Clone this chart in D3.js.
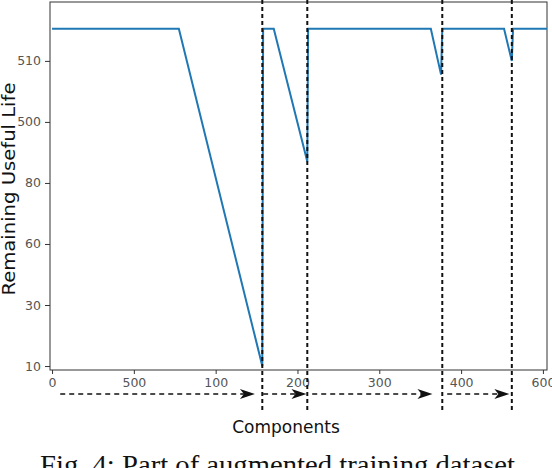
<!DOCTYPE html>
<html><head><meta charset="utf-8">
<script src="https://cdn.jsdelivr.net/npm/d3@7"></script>
<style>body{margin:0;background:#fff}svg{display:block}</style>
</head><body>
<svg id="c" width="552" height="468"></svg>
<script>
// Data
const xTicks = [0, 100, 200, 300, 400, 500, 600];
const xTickLabels = ["0", "500", "100", "200", "300", "400", "600"];
const yTicks = [0, 20, 40, 60, 80, 100];
const yTickLabels = ["10", "30", "60", "80", "500", "510"];
const rulX = [0, 155, 257, 258, 271, 312, 313, 463, 475.5, 477, 552.5, 562, 563.5, 605];
const rulY = [110.5, 110.5, 0, 110.5, 110.5, 67, 110.5, 110.5, 95.5, 110.5, 110.5, 100, 110.5, 110.5];
const boundaries = [257, 312, 477, 562];
const arrowStarts = [10, 258, 318, 483];
const arrowEnds = [248, 311, 465, 559];

const svg = d3.select("#c");
const m = {l: 50, r: 5, t: 2, b: 98};
const W = 552, H = 468;
const x = d3.scaleLinear().domain([-2.5, 605]).range([m.l, W - m.r]);
const y = d3.scaleLinear().domain([-1.3, 119.3]).range([H - m.b, m.t]);
const ink = "#333";

// axes
const xa = svg.append("g").attr("transform", `translate(0,${H - m.b})`)
  .call(d3.axisBottom(x).tickValues(xTicks).tickSize(4).tickPadding(4)
    .tickFormat((d, i) => xTickLabels[i]));
const ya = svg.append("g").attr("transform", `translate(${m.l},0)`)
  .call(d3.axisLeft(y).tickValues(yTicks).tickSize(5).tickPadding(4)
    .tickFormat((d, i) => yTickLabels[i]));
[xa, ya].forEach(g => {
  g.select(".domain").remove();
  g.selectAll(".tick line").attr("stroke", ink).attr("stroke-width", 1);
  g.selectAll(".tick text").attr("fill", "#555").style("font-family", "DejaVu Sans, sans-serif").style("font-size", "12.5px");
});

// frame
svg.append("rect").attr("x", m.l).attr("y", m.t)
  .attr("width", W - m.r - m.l).attr("height", H - m.b - m.t)
  .attr("fill", "none").attr("stroke", ink).attr("stroke-width", 1);

// line
const pts = rulX.map((d, i) => [d, rulY[i]]);
svg.append("path").datum(pts)
  .attr("d", d3.line().x(d => x(d[0])).y(d => y(d[1])))
  .attr("fill", "none").attr("stroke", "#1f77b4").attr("stroke-width", 2)
  .attr("stroke-linejoin", "miter");

// boundaries
svg.selectAll(".bd").data(boundaries).join("line")
  .attr("x1", d => x(d)).attr("x2", d => x(d))
  .attr("y1", 0).attr("y2", 413)
  .attr("stroke", "#111").attr("stroke-width", 2).attr("stroke-dasharray", "4,3");

// arrows
const ay = 394;
arrowStarts.forEach((s, i) => {
  const x0 = x(s), x1 = x(arrowEnds[i]);
  svg.append("line").attr("x1", x0).attr("x2", x1 - 10).attr("y1", ay).attr("y2", ay)
    .attr("stroke", "#111").attr("stroke-width", 1.5).attr("stroke-dasharray", "5,4");
  svg.append("path")
    .attr("d", `M${x1},${ay} L${x1 - 15},${ay - 5} L${x1 - 11},${ay} L${x1 - 15},${ay + 5} Z`)
    .attr("fill", "#111");
});

// labels
svg.append("text").attr("transform", `translate(9,${(m.t + H - m.b) / 2 + 3}) rotate(-90)`)
  .attr("text-anchor", "middle").attr("dy", "0.35em")
  .attr("textLength", 213).attr("lengthAdjust", "spacingAndGlyphs")
  .style("font-family", "DejaVu Sans, sans-serif").style("font-size", "17.5px").attr("fill", "#111")
  .text("Remaining Useful Life");
svg.append("text").attr("x", 286).attr("y", 433).attr("text-anchor", "middle")
  .style("font-family", "DejaVu Sans, sans-serif").style("font-size", "17px").attr("fill", "#111")
  .text("Components");
svg.append("text").attr("x", 277.5).attr("y", 474).attr("text-anchor", "middle")
  .attr("textLength", 475).attr("lengthAdjust", "spacingAndGlyphs")
  .style("font-family", "Liberation Serif, serif").style("font-size", "28px").attr("fill", "#111")
  .text("Fig. 4: Part of augmented training dataset");
</script>
</body></html>
